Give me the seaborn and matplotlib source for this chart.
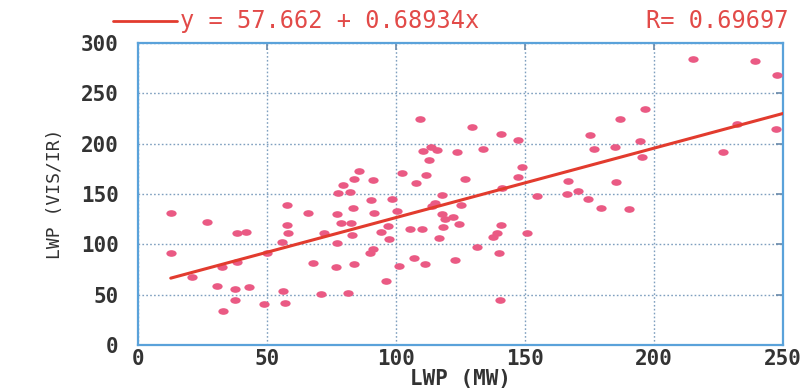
import numpy as np
import pandas as pd
import matplotlib
matplotlib.use("Agg")
import matplotlib.pyplot as plt
from matplotlib.path import Path
from matplotlib.transforms import Affine2D
from matplotlib.lines import Line2D
import seaborn as sns

# Liquid water path: microwave retrieval vs. VIS/IR retrieval
lwp_mw = [
    12.7, 26.9, 12.7, 38.5, 41.9, 20.8, 32.4, 38.5, 30.7, 37.6, 43.1, 37.6,
    33.0, 48.8, 50.1, 57.6, 57.6, 58.3, 56.0, 56.3, 57.1, 66.0, 68.0, 70.9,
    72.0, 77.0, 77.0, 76.6, 77.6, 78.5, 82.4, 81.5,
    79.6, 83.7, 85.8, 91.2, 82.2, 90.2, 98.5,
    83.2, 91.5, 100.5, 82.8, 94.0, 97.0, 97.4, 105.4, 110.0, 116.6, 91.0,
    90.0, 83.8, 101.0, 107.0, 111.2, 96.1, 140.3,
    109.3, 129.6, 140.6, 147.4, 110.6, 113.4, 115.8, 123.8, 133.6, 112.9,
    148.7, 147.4, 102.4, 111.6, 107.8, 126.7, 141.0, 117.7, 154.5,
    115.1, 113.8, 125.0, 117.7, 122.2, 119.0, 124.5, 118.3,
    140.6, 139.0, 137.7, 150.8, 131.3, 139.8, 122.9,
    215.0, 239.3, 247.5, 196.5, 187.0, 175.1, 194.6, 176.6, 184.9, 195.2,
    232.0, 247.3, 226.9, 166.8, 185.2, 166.1, 170.5, 174.5, 179.3, 190.3,
]
lwp_visir = [
    130.8, 122.0, 91.0, 111.0, 112.0, 68.0, 77.0, 82.0, 58.6, 56.0, 58.0, 45.0,
    33.5, 41.0, 91.0, 139.0, 119.0, 111.0, 102.6, 54.0, 42.0, 131.0, 81.0, 50.6,
    111.0, 130.0, 101.0, 77.0, 151.0, 121.0, 121.0, 52.0,
    159.0, 164.5, 173.0, 163.5, 152.0, 144.0, 145.0,
    136.0, 131.0, 133.0, 109.0, 112.5, 118.0, 105.0, 115.0, 115.0, 106.7, 95.0,
    91.0, 80.7, 78.0, 86.0, 80.0, 64.0, 44.7,
    224.4, 216.5, 210.0, 204.0, 193.0, 197.0, 193.6, 191.3, 194.3, 183.7,
    177.0, 166.5, 170.8, 169.0, 161.0, 164.5, 155.6, 149.5, 148.0,
    140.7, 138.0, 139.0, 130.0, 127.4, 124.8, 120.0, 117.0,
    119.0, 111.5, 107.5, 111.5, 97.3, 91.7, 84.0,
    283.7, 282.3, 267.8, 234.7, 224.7, 208.6, 202.9, 194.3, 197.0, 187.0,
    219.5, 214.2, 191.3, 163.0, 161.5, 150.0, 153.2, 145.0, 135.7, 135.0,
]

# Fitted regression
intercept = 57.662
slope = 0.68934
r_value = 0.69697

x_ticks = [0, 50, 100, 150, 200, 250]
y_ticks = [0, 50, 100, 150, 200, 250, 300]

df = pd.DataFrame({"LWP_MW": lwp_mw, "LWP_VISIR": lwp_visir})

POINT = "#ea5a84"
LINE = "#e23b2e"
TEXT_RED = "#e24a48"
SPINE = "#5aa2da"
GRID = "#7f9fbf"
LABEL = "#333333"

sns.set_theme(style="white")
plt.rcParams["font.family"] = ["DejaVu Sans Mono", "DejaVu Sans"]

fig = plt.figure(figsize=(8.06, 3.91), dpi=100)
fig.patch.set_facecolor("white")
ax = fig.add_axes([138 / 806, 1 - 345 / 391, (783 - 138) / 806, (345 - 43) / 391])

# flat, horizontally stretched dots
blob = Path.unit_circle().transformed(Affine2D().scale(1.55, 1.0))
sns.scatterplot(data=df, x="LWP_MW", y="LWP_VISIR", marker=blob, s=55,
                color=POINT, edgecolor=POINT, linewidth=0, ax=ax, zorder=3)

# regression line over the data range to the right edge
line_x = np.array([min(lwp_mw), x_ticks[-1]])
sns.lineplot(x=line_x, y=intercept + slope * line_x, color=LINE,
             linewidth=2.2, ax=ax, zorder=4)

ax.set_xlim(x_ticks[0], x_ticks[-1])
ax.set_ylim(y_ticks[0], y_ticks[-1])
ax.set_xticks(x_ticks)
ax.set_yticks(y_ticks)
ax.grid(True, linestyle=(0, (1.2, 1.6)), color=GRID, linewidth=1.0)
for side in ["left", "right", "top", "bottom"]:
    ax.spines[side].set_color(SPINE)
    ax.spines[side].set_linewidth(1.6)
    ax.spines[side].set_visible(True)

ax.tick_params(axis="both", which="major", direction="in", length=5, width=1.2,
               color="#6a8aaa", top=True, right=True, labelsize=15,
               labelcolor=LABEL)
ax.tick_params(axis="y", pad=14)
ax.tick_params(axis="x", pad=3)
for lbl in ax.get_xticklabels() + ax.get_yticklabels():
    lbl.set_fontweight("bold")

ax.set_xlabel("LWP (MW)", fontsize=15, color=LABEL, labelpad=0, fontweight="bold")
ax.set_ylabel("LWP (VIS/IR)", fontsize=13, color=LABEL, labelpad=12)

# header: line sample, equation and correlation
header_y = 1 - 21 / 391
fig.add_artist(Line2D([113 / 806, 177 / 806], [header_y, header_y],
                      color=LINE, linewidth=2.0, transform=fig.transFigure))
fig.text(180 / 806, header_y, f"y = {intercept} + {slope}x",
         fontsize=17, color=TEXT_RED, ha="left", va="center")
fig.text(788 / 806, header_y, f"R= {r_value}",
         fontsize=17, color=TEXT_RED, ha="right", va="center")

fig.savefig("out.png", dpi=100)
